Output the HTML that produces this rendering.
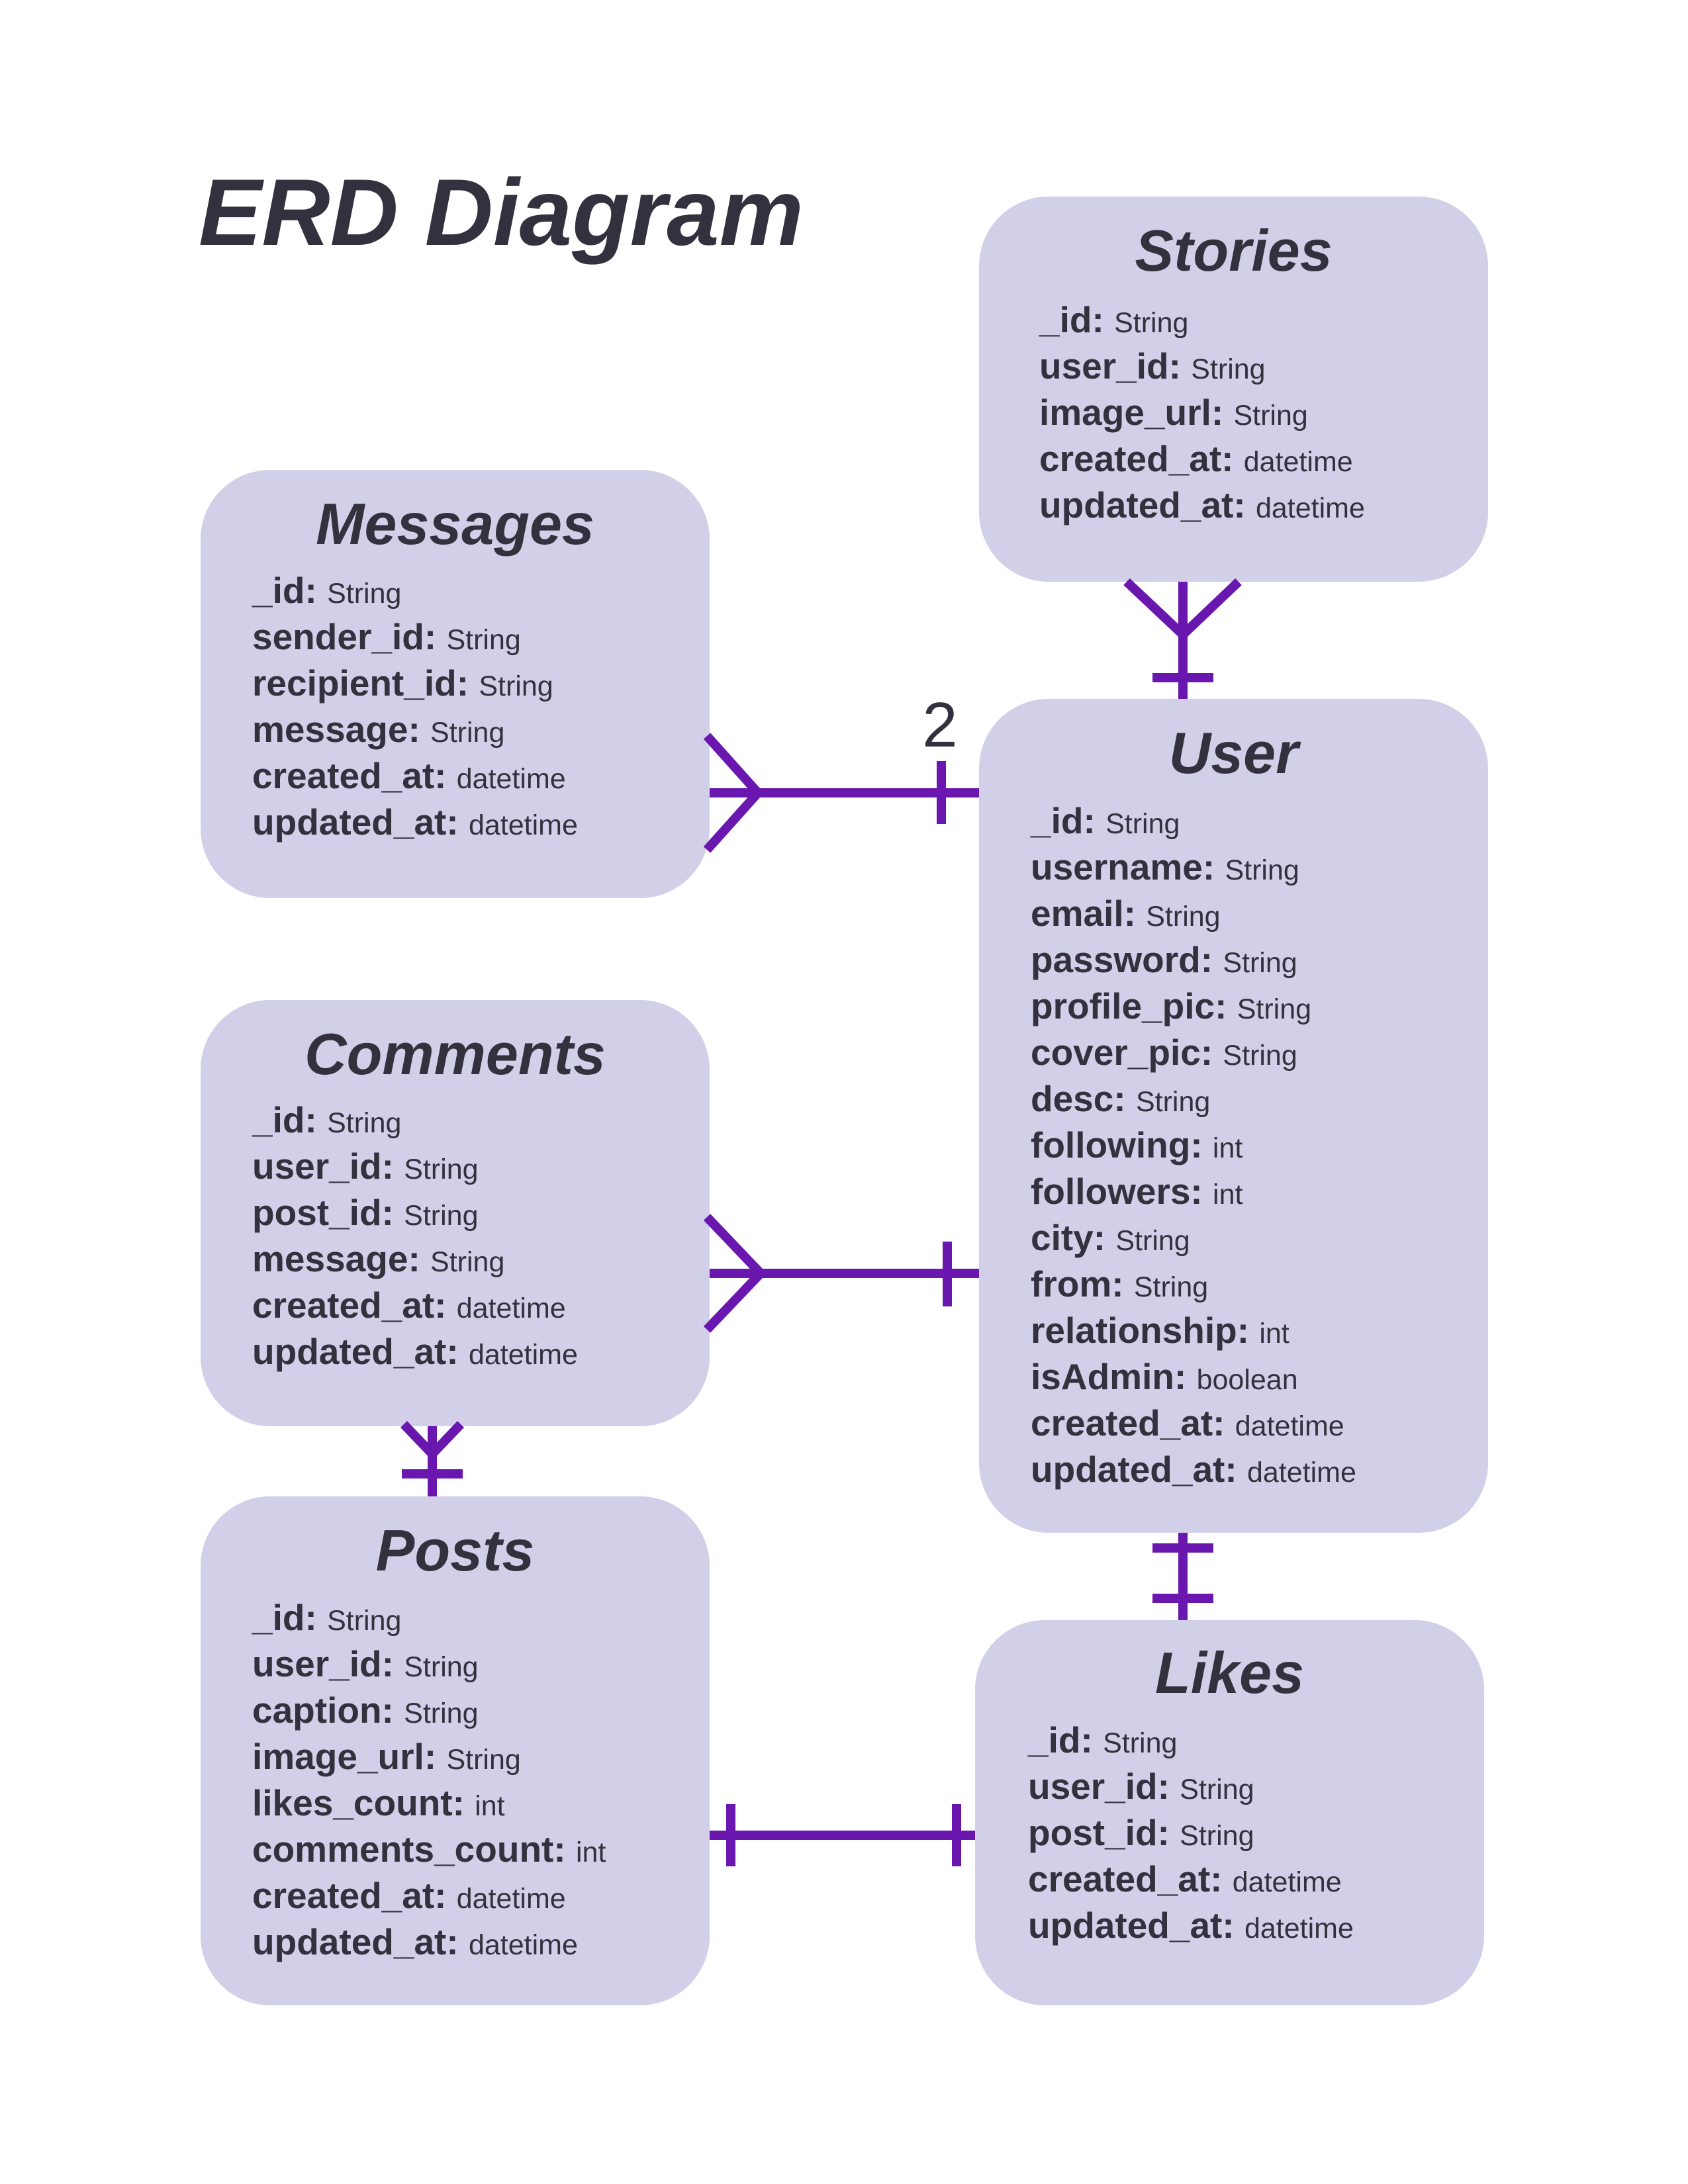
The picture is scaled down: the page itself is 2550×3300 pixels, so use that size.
<!DOCTYPE html>
<html><head><meta charset="utf-8"><style>
html,body{margin:0;padding:0;background:#fff}
body{width:2550px;height:3300px;position:relative;overflow:hidden;font-family:"Liberation Sans",sans-serif;color:#33313e}
.box{position:absolute;background:#d2cfe8;border-radius:105px}
.t{position:absolute;font-weight:bold;font-style:italic;font-size:88px;text-align:center;line-height:1}
.f{position:absolute;font-size:55px;font-weight:bold;line-height:1;white-space:nowrap}
.f span{font-weight:normal;font-size:43px}
svg{position:absolute;left:0;top:0}
</style></head><body>
<div style="position:absolute;left:300px;top:250px;font-size:143px;font-weight:bold;font-style:italic;line-height:1;white-space:nowrap">ERD Diagram</div>

<div class="box" style="left:1479px;top:297px;width:769px;height:582px"></div>
<div class="box" style="left:303px;top:710px;width:769px;height:647px"></div>
<div class="box" style="left:1479px;top:1056px;width:769px;height:1260px"></div>
<div class="box" style="left:303px;top:1511px;width:769px;height:644px"></div>
<div class="box" style="left:303px;top:2261px;width:769px;height:769px"></div>
<div class="box" style="left:1473px;top:2448px;width:769px;height:582px"></div>

<svg width="2550" height="3300">
<g stroke="#6a17b0" stroke-width="14" fill="none">
<line x1="1787" y1="879" x2="1787" y2="1056"/>
<polyline points="1702,879 1787,959 1871,879"/>
<line x1="1741" y1="1024" x2="1833" y2="1024"/>
<line x1="1072" y1="1198" x2="1479" y2="1198"/>
<polyline points="1068,1112 1145,1198 1068,1284"/>
<line x1="1422" y1="1150" x2="1422" y2="1245"/>
<line x1="1072" y1="1924" x2="1479" y2="1924"/>
<polyline points="1068,1839 1149,1924 1068,2009"/>
<line x1="1431" y1="1876" x2="1431" y2="1974"/>
<line x1="653" y1="2155" x2="653" y2="2261"/>
<polyline points="610,2152 653,2197 696,2152"/>
<line x1="607" y1="2227" x2="699" y2="2227"/>
<line x1="1787" y1="2316" x2="1787" y2="2448"/>
<line x1="1741" y1="2339" x2="1833" y2="2339"/>
<line x1="1741" y1="2415" x2="1833" y2="2415"/>
<line x1="1072" y1="2773" x2="1473" y2="2773"/>
<line x1="1104" y1="2726" x2="1104" y2="2820"/>
<line x1="1445" y1="2726" x2="1445" y2="2820"/>
</g>
<text x="1420" y="1128" font-family="Liberation Sans" font-size="96" fill="#33313e" text-anchor="middle">2</text>
</svg>

<div class="t" style="left:1479px;width:769px;top:335px">Stories</div>
<div class="f" style="left:1570px;top:456px">_id: <span>String</span></div>
<div class="f" style="left:1570px;top:526px">user_id: <span>String</span></div>
<div class="f" style="left:1570px;top:596px">image_url: <span>String</span></div>
<div class="f" style="left:1570px;top:666px">created_at: <span>datetime</span></div>
<div class="f" style="left:1570px;top:736px">updated_at: <span>datetime</span></div>

<div class="t" style="left:303px;width:769px;top:748px">Messages</div>
<div class="f" style="left:381px;top:865px">_id: <span>String</span></div>
<div class="f" style="left:381px;top:935px">sender_id: <span>String</span></div>
<div class="f" style="left:381px;top:1005px">recipient_id: <span>String</span></div>
<div class="f" style="left:381px;top:1075px">message: <span>String</span></div>
<div class="f" style="left:381px;top:1145px">created_at: <span>datetime</span></div>
<div class="f" style="left:381px;top:1215px">updated_at: <span>datetime</span></div>

<div class="t" style="left:1479px;width:769px;top:1094px">User</div>
<div class="f" style="left:1557px;top:1213px">_id: <span>String</span></div>
<div class="f" style="left:1557px;top:1283px">username: <span>String</span></div>
<div class="f" style="left:1557px;top:1353px">email: <span>String</span></div>
<div class="f" style="left:1557px;top:1423px">password: <span>String</span></div>
<div class="f" style="left:1557px;top:1493px">profile_pic: <span>String</span></div>
<div class="f" style="left:1557px;top:1563px">cover_pic: <span>String</span></div>
<div class="f" style="left:1557px;top:1633px">desc: <span>String</span></div>
<div class="f" style="left:1557px;top:1703px">following: <span>int</span></div>
<div class="f" style="left:1557px;top:1773px">followers: <span>int</span></div>
<div class="f" style="left:1557px;top:1843px">city: <span>String</span></div>
<div class="f" style="left:1557px;top:1913px">from: <span>String</span></div>
<div class="f" style="left:1557px;top:1983px">relationship: <span>int</span></div>
<div class="f" style="left:1557px;top:2053px">isAdmin: <span>boolean</span></div>
<div class="f" style="left:1557px;top:2123px">created_at: <span>datetime</span></div>
<div class="f" style="left:1557px;top:2193px">updated_at: <span>datetime</span></div>

<div class="t" style="left:303px;width:769px;top:1549px">Comments</div>
<div class="f" style="left:381px;top:1665px">_id: <span>String</span></div>
<div class="f" style="left:381px;top:1735px">user_id: <span>String</span></div>
<div class="f" style="left:381px;top:1805px">post_id: <span>String</span></div>
<div class="f" style="left:381px;top:1875px">message: <span>String</span></div>
<div class="f" style="left:381px;top:1945px">created_at: <span>datetime</span></div>
<div class="f" style="left:381px;top:2015px">updated_at: <span>datetime</span></div>

<div class="t" style="left:303px;width:769px;top:2299px">Posts</div>
<div class="f" style="left:381px;top:2417px">_id: <span>String</span></div>
<div class="f" style="left:381px;top:2487px">user_id: <span>String</span></div>
<div class="f" style="left:381px;top:2557px">caption: <span>String</span></div>
<div class="f" style="left:381px;top:2627px">image_url: <span>String</span></div>
<div class="f" style="left:381px;top:2697px">likes_count: <span>int</span></div>
<div class="f" style="left:381px;top:2767px">comments_count: <span>int</span></div>
<div class="f" style="left:381px;top:2837px">created_at: <span>datetime</span></div>
<div class="f" style="left:381px;top:2907px">updated_at: <span>datetime</span></div>

<div class="t" style="left:1473px;width:769px;top:2484px">Likes</div>
<div class="f" style="left:1553px;top:2602px">_id: <span>String</span></div>
<div class="f" style="left:1553px;top:2672px">user_id: <span>String</span></div>
<div class="f" style="left:1553px;top:2742px">post_id: <span>String</span></div>
<div class="f" style="left:1553px;top:2812px">created_at: <span>datetime</span></div>
<div class="f" style="left:1553px;top:2882px">updated_at: <span>datetime</span></div>
</body></html>
